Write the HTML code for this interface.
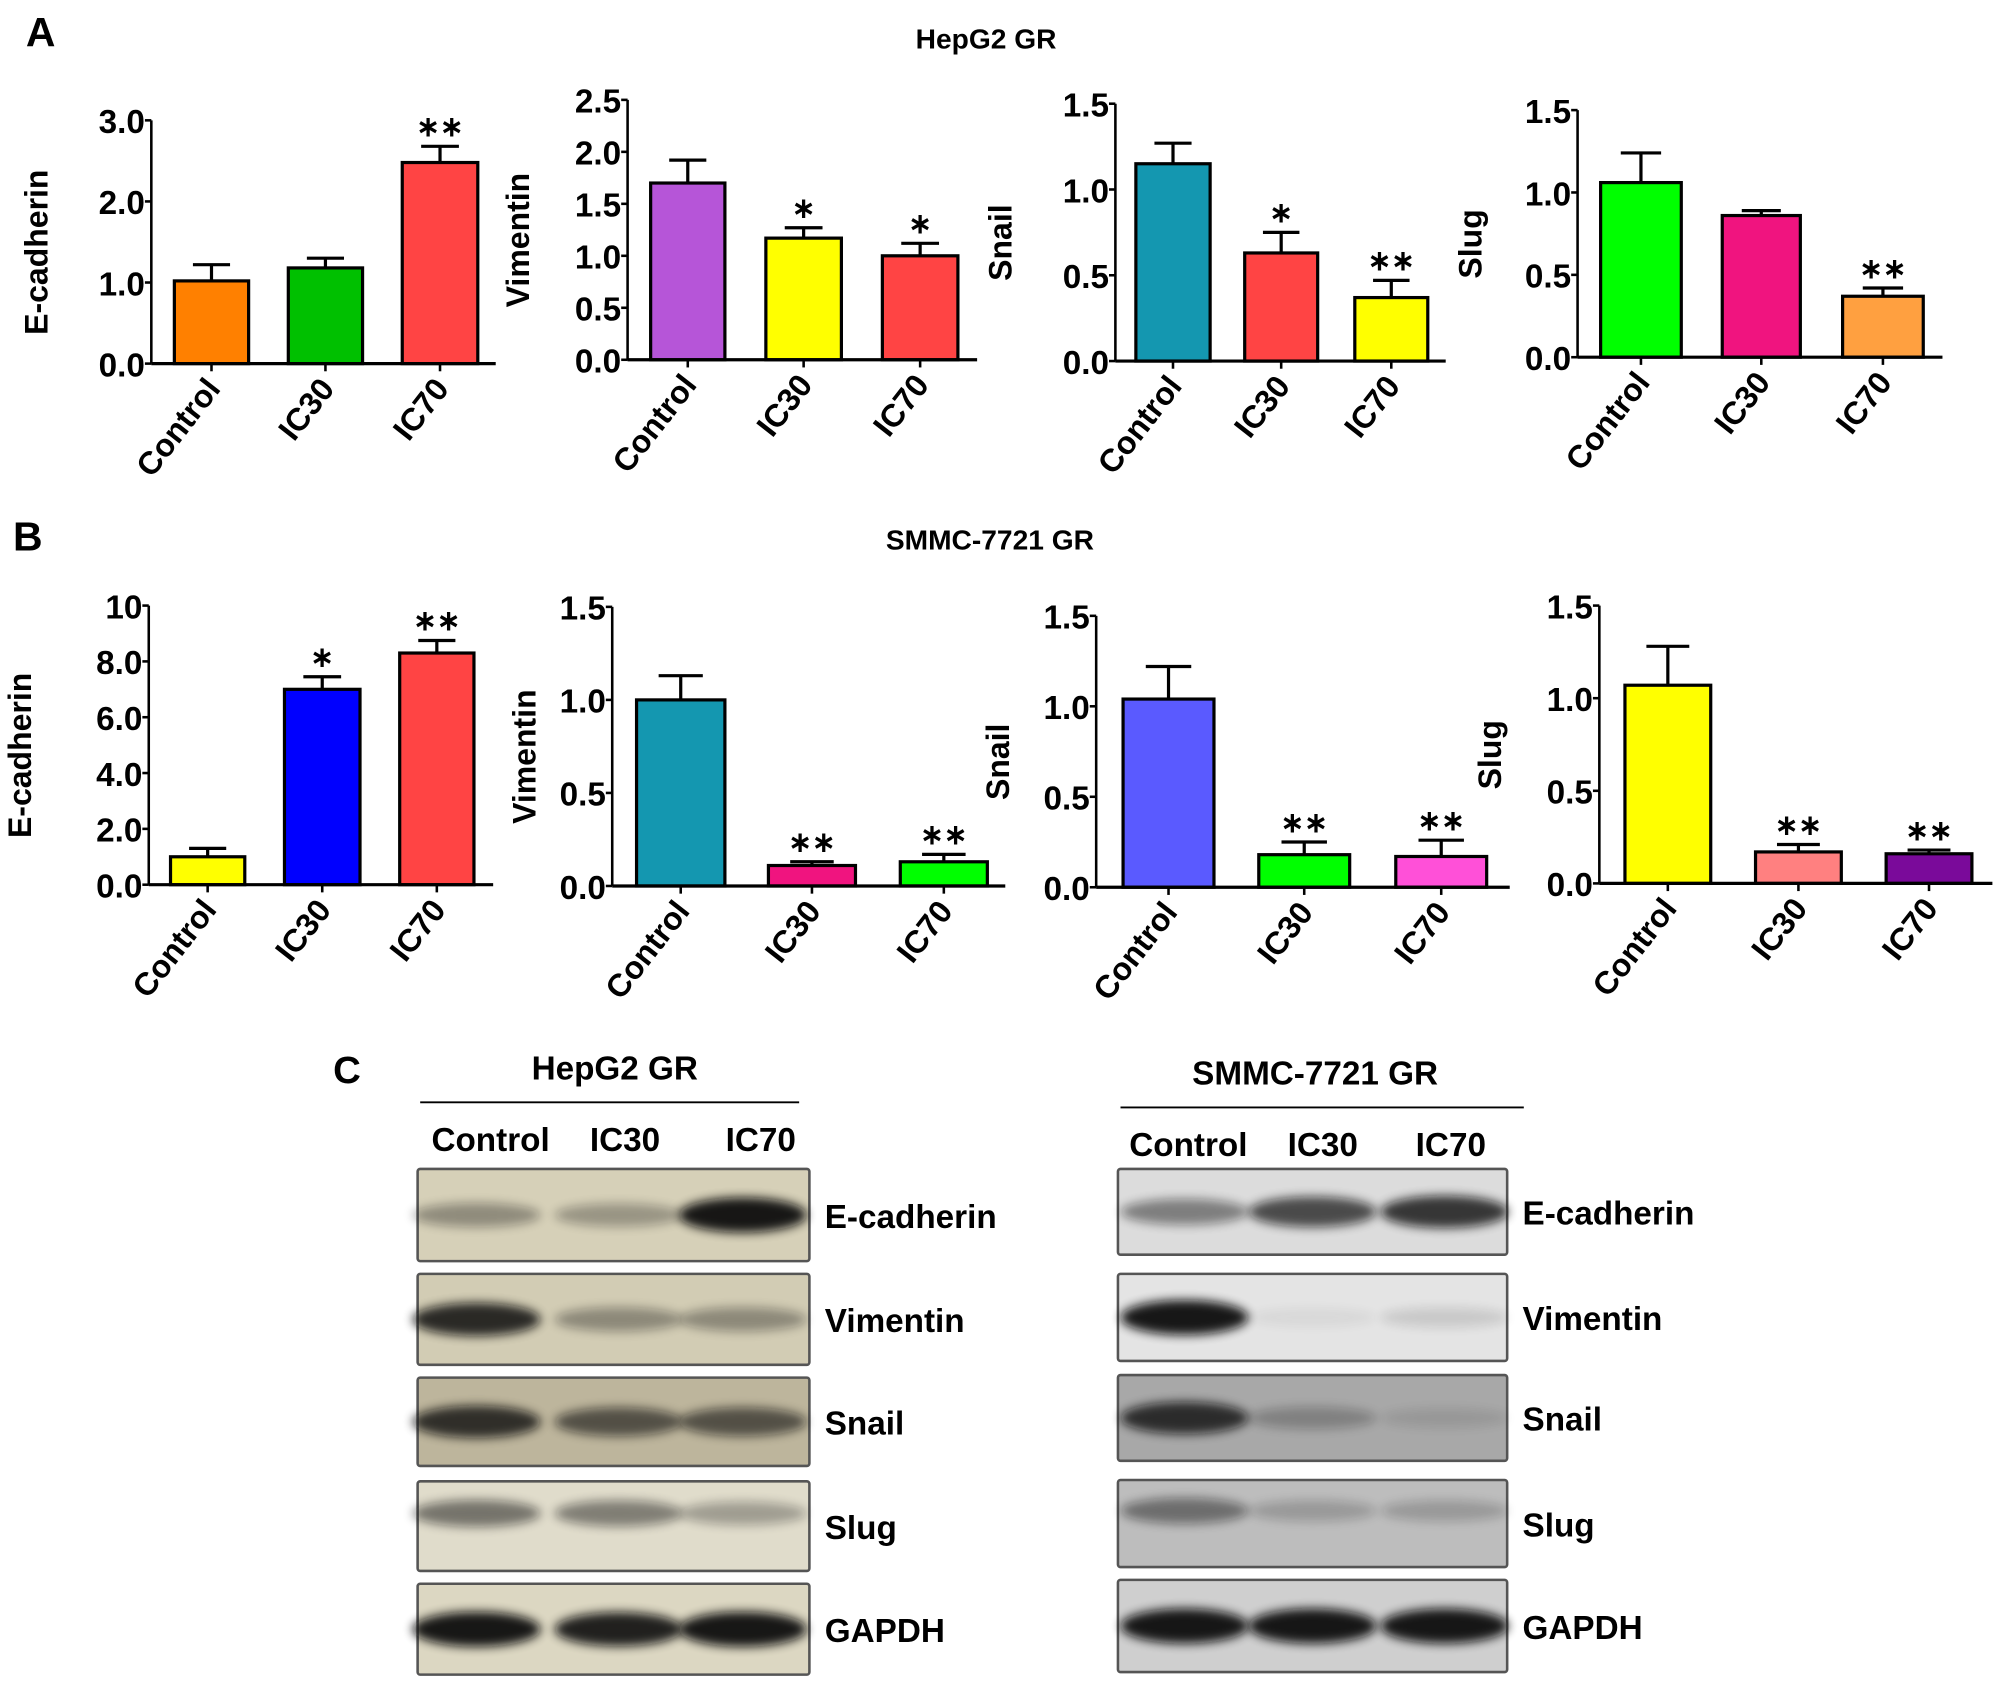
<!DOCTYPE html>
<html><head><meta charset="utf-8">
<style>
html,body{margin:0;padding:0;background:#fff;}
svg{display:block;}
text{font-family:"Liberation Sans",Arial,sans-serif;font-weight:bold;fill:#000;}
.tick{font-family:"Liberation Sans Narrow","Liberation Sans",sans-serif;font-stretch:condensed;font-size:26px;}
.blotlbl{font-size:26px;}
</style></head>
<body>
<svg id="fig" width="2008" height="1690" viewBox="0 0 1568 1320" xmlns="http://www.w3.org/2000/svg">
<defs>
<filter id="blur4" x="-20%" y="-100%" width="140%" height="300%"><feGaussianBlur stdDeviation="4"/></filter>
</defs>
<text x="20" y="36" style="font-size:32px">A</text>
<text x="770" y="38" text-anchor="middle" style="font-size:22px">HepG2 GR</text>
<text x="10" y="430" style="font-size:32px">B</text>
<text x="773" y="429" text-anchor="middle" style="font-size:22px">SMMC-7721 GR</text>
<g id="charts"></g>
<g id="blots"></g>
</svg>
<script>
const categories = ["Control","IC30","IC70"];
// Panel A (HepG2 GR)
const aEcadValues = [1.02, 1.18, 2.48];
const aEcadErrors = [0.20, 0.12, 0.20];
const aEcadStars = ["", "", "**"];
const aEcadTicks = ["0.0","1.0","2.0","3.0"];
const aVimValues = [1.70, 1.17, 1.00];
const aVimErrors = [0.22, 0.10, 0.12];
const aVimStars = ["", "*", "*"];
const aVimTicks = ["0.0","0.5","1.0","1.5","2.0","2.5"];
const aSnailValues = [1.15, 0.63, 0.37];
const aSnailErrors = [0.12, 0.12, 0.10];
const aSnailStars = ["", "*", "**"];
const aSnailTicks = ["0.0","0.5","1.0","1.5"];
const aSlugValues = [1.06, 0.86, 0.37];
const aSlugErrors = [0.18, 0.03, 0.05];
const aSlugStars = ["", "", "**"];
const aSlugTicks = ["0.0","0.5","1.0","1.5"];
// Panel B (SMMC-7721 GR)
const bEcadValues = [1.0, 7.0, 8.3];
const bEcadErrors = [0.3, 0.45, 0.45];
const bEcadStars = ["", "*", "**"];
const bEcadTicks = ["0.0","2.0","4.0","6.0","8.0","10"];
const bVimValues = [1.0, 0.11, 0.13];
const bVimErrors = [0.13, 0.02, 0.04];
const bVimStars = ["", "**", "**"];
const bVimTicks = ["0.0","0.5","1.0","1.5"];
const bSnailValues = [1.04, 0.18, 0.17];
const bSnailErrors = [0.18, 0.07, 0.09];
const bSnailStars = ["", "**", "**"];
const bSnailTicks = ["0.0","0.5","1.0","1.5"];
const bSlugValues = [1.07, 0.17, 0.16];
const bSlugErrors = [0.21, 0.04, 0.02];
const bSlugStars = ["", "**", "**"];
const bSlugTicks = ["0.0","0.5","1.0","1.5"];

const NS = "http://www.w3.org/2000/svg";
function mk(tag, attrs, parent, txt){
  const e = document.createElementNS(NS, tag);
  for (const k in attrs) e.setAttribute(k, attrs[k]);
  if (txt !== undefined) e.textContent = txt;
  parent.appendChild(e);
  return e;
}
const layouts = [
 {id:"a-ecadherin", title:"E-cadherin", titleX:37, vals:aEcadValues, errs:aEcadErrors, stars:aEcadStars, ticks:aEcadTicks, max:3, ax:118, top:94, base:284, end:387, bars:[[136,194],[225,283],[314,373]], colors:["#ff8000","#00c000","#ff4444"]},
 {id:"a-vimentin", title:"Vimentin", titleX:413, vals:aVimValues, errs:aVimErrors, stars:aVimStars, ticks:aVimTicks, max:2.5, ax:490, top:78, base:281, end:763, bars:[[508,566],[598,657],[689,748]], colors:["#b655d8","#ffff00","#ff4444"]},
 {id:"a-snail", title:"Snail", titleX:790, vals:aSnailValues, errs:aSnailErrors, stars:aSnailStars, ticks:aSnailTicks, max:1.5, ax:871, top:81, base:282, end:1129, bars:[[887,945],[972,1029],[1058,1115]], colors:["#1497b0","#ff4444","#ffff00"]},
 {id:"a-slug", title:"Slug", titleX:1157, vals:aSlugValues, errs:aSlugErrors, stars:aSlugStars, ticks:aSlugTicks, max:1.5, ax:1232, top:86, base:279, end:1517, bars:[[1250,1313],[1345,1406],[1439,1502]], colors:["#00ff00","#f0147f","#ffa040"]},
 {id:"b-ecadherin", title:"E-cadherin", titleX:24, vals:bEcadValues, errs:bEcadErrors, stars:bEcadStars, ticks:bEcadTicks, max:10, ax:116, top:473, base:691, end:385, bars:[[133,191],[222,281],[312,370]], colors:["#ffff00","#0000ff","#ff4444"]},
 {id:"b-vimentin", title:"Vimentin", titleX:418, vals:bVimValues, errs:bVimErrors, stars:bVimStars, ticks:bVimTicks, max:1.5, ax:478, top:474, base:692, end:785, bars:[[497,566],[600,668],[703,771]], colors:["#1497b0","#f0147f","#00ff00"]},
 {id:"b-snail", title:"Snail", titleX:788, vals:bSnailValues, errs:bSnailErrors, stars:bSnailStars, ticks:bSnailTicks, max:1.5, ax:856, top:481, base:693, end:1179, bars:[[877,948],[983,1054],[1090,1161]], colors:["#5a5aff","#00ff00","#ff50d8"]},
 {id:"b-slug", title:"Slug", titleX:1172, vals:bSlugValues, errs:bSlugErrors, stars:bSlugStars, ticks:bSlugTicks, max:1.5, ax:1249, top:473, base:690, end:1556, bars:[[1269,1336],[1371,1438],[1473,1540]], colors:["#ffff00","#ff8080","#7a0a9a"]}
];
const root = document.getElementById("charts");
layouts.forEach(L => {
  const g = mk("g", {}, root);
  
  
  const y = v => L.base - (v / L.max) * (L.base - L.top);
  const tmax = parseFloat(L.ticks[L.ticks.length-1]);
  const yax = mk("line", {x1:L.ax, y1:L.top, x2:L.ax, y2:L.base, stroke:"#000","stroke-width":2}, g);
  
  
  L.ticks.forEach((t, i) => {
    const v = tmax * i / (L.ticks.length - 1);
    const ty = y(v);
    mk("line", {x1:L.ax-5, y1:ty, x2:L.ax, y2:ty, stroke:"#000","stroke-width":2}, g);
    const tl = mk("text", {x:L.ax-5, y:ty+10, "text-anchor":"end", class:"tick"}, g, t);
    
    
  });
  const midY = (L.top + L.base) / 2 + 8;
  const yt = mk("text", {x:L.titleX, y:midY, "text-anchor":"middle", transform:`rotate(-90 ${L.titleX} ${midY})`, style:"font-size:25px"}, g, L.title);
  
  
  L.vals.forEach((v, i) => {
    const [x0, x1] = L.bars[i];
    const cx = (x0 + x1) / 2, w = x1 - x0;
    const top = y(v), et = y(v + L.errs[i]);
    mk("line", {x1:cx, y1:top, x2:cx, y2:et, stroke:"#000","stroke-width":2.5}, g);
    mk("line", {x1:cx - w*0.25, y1:et, x2:cx + w*0.25, y2:et, stroke:"#000","stroke-width":2.5}, g);
    const r = mk("rect", {x:x0, y:top, width:w, height:L.base-top, fill:L.colors[i], stroke:"#000","stroke-width":2.5}, g);
    
    
    if (L.stars[i]) {
      const s = mk("text", {x:cx, y:et-8, "text-anchor":"middle", style:"font-size:22px"}, g, L.stars[i].replace(/\*/g,"∗"));
      
      
    }
    mk("line", {x1:cx, y1:L.base, x2:cx, y2:L.base+6, stroke:"#000","stroke-width":2}, g);
    const lx = cx + 8, ly = L.base + 20;
    const xl = mk("text", {x:lx, y:ly, "text-anchor":"end", transform:`rotate(-52 ${lx} ${ly})`, style:"font-size:25px"}, g, categories[i]);
    
    
  });
  const xax = mk("line", {x1:L.ax, y1:L.base, x2:L.end, y2:L.base, stroke:"#000","stroke-width":2.5}, g);
  
  
});

// Western blots (panel C)
const proteins = ["E-cadherin","Vimentin","Snail","Slug","GAPDH"];
const hepIntensity = [[0.35,0.3,0.95],[0.85,0.35,0.35],[0.8,0.6,0.6],[0.5,0.45,0.3],[0.95,0.9,0.95]];
const smmcIntensity = [[0.45,0.7,0.8],[0.95,0.05,0.12],[0.8,0.25,0.1],[0.45,0.2,0.2],[0.95,0.95,0.95]];
const blotRoot = document.getElementById("blots");
function blotPanel(id, title, x0, x1, rows, lanes, bg, intens, lineY, lblX, lineX0, lineX1, titleX, laneLabelX) {
  const g = mk("g", {}, blotRoot);
  
  
  const t = mk("text", {x:titleX, y:lineY-18, "text-anchor":"middle", style:"font-size:26px"}, g, title);
  
  
  mk("line", {x1:lineX0, y1:lineY, x2:lineX1, y2:lineY, stroke:"#000","stroke-width":1.5}, g);
  categories.forEach((c, i) => {
    const l = mk("text", {x:laneLabelX[i], y:lineY+38, "text-anchor":"middle", class:"blotlbl"}, g, c);
    
    
  });
  rows.forEach((r, ri) => {
    const [y0, y1] = r;
    const box = mk("rect", {x:x0, y:y0, width:x1-x0, height:y1-y0, fill:bg[ri], stroke:"#555","stroke-width":2, rx:2}, g);
    
    
    lanes.forEach((lc, li) => {
      const a = intens[ri][li];
      mk("ellipse", {cx:lc, cy:(y0+y1)/2 + (ri===3?-10:0), rx:50, ry:7 + a*7, fill:"#111", opacity:a, filter:"url(#blur4)"}, g);
    });
    const pl = mk("text", {x:x1+12, y:(y0+y1)/2+10, class:"blotlbl"}, g, proteins[ri]);
    
    
  });
}
const cl = mk("text", {x:260, y:846, style:"font-size:30px"}, blotRoot, "C");


blotPanel("hepg2", "HepG2 GR", 326, 632,
  [[913,985],[995,1066],[1076,1145],[1157,1227],[1237,1308]],
  [372,483,580], ["#d6d0b8","#d2ccb4","#bdb59c","#e0dccb","#dcd7c2"], hepIntensity,
  861, 644, 328, 624, 480, [383,488,594]);
blotPanel("smmc", "SMMC-7721 GR", 873, 1177,
  [[913,980],[995,1063],[1074,1141],[1156,1224],[1234,1306]],
  [925,1025,1128], ["#dcdcdc","#e4e4e4","#a8a8a8","#bdbdbd","#cfcfcf"], smmcIntensity,
  865, 1187, 875, 1190, 1027, [928,1033,1133]);
</script>
</body></html>
